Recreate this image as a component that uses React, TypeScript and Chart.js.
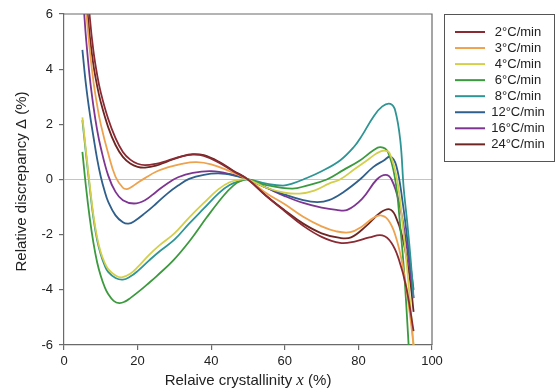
import { useEffect, useRef } from 'react';
import { Chart, registerables } from 'chart.js';

Chart.register(...registerables);

const seriesLabels = ['2°C/min', '3°C/min', '4°C/min', '6°C/min', '8°C/min', '12°C/min', '16°C/min', '24°C/min'];
const seriesColors = ['#8a2a33', '#eea24e', '#d4cf4a', '#3c9a3e', '#2e9494', '#2f5f8c', '#7e3592', '#6e2622'];

const xTicks = [0, 20, 40, 60, 80, 100];
const yTicks = [-6, -4, -2, 0, 2, 4, 6];

const rate2: [number, number][] = [[5, 11.5], [6, 7.8], [7, 5.9], [8, 4.65], [9, 3.8], [10, 3.15], [12, 2.2], [14, 1.5], [16, 1.0], [18, 0.72], [20, 0.57], [22, 0.52], [25, 0.57], [28, 0.68], [32, 0.84], [35, 0.9], [38, 0.86], [42, 0.62], [46, 0.3], [50, 0], [55, -0.6], [60, -1.15], [65, -1.68], [70, -2.08], [75, -2.3], [79, -2.25], [83, -2.1], [86.5, -2.03], [89, -2.3], [91, -2.9], [93, -3.9], [95, -5.5]];
const rate3: [number, number][] = [[5, 8.5], [6, 6.2], [7, 4.7], [8, 3.55], [9, 2.7], [10, 2.0], [12, 0.95], [14, 0.1], [16, -0.3], [17, -0.35], [18, -0.3], [20, -0.12], [22, 0.05], [25, 0.28], [28, 0.43], [32, 0.57], [36, 0.63], [40, 0.55], [45, 0.3], [50, 0], [55, -0.5], [60, -0.9], [65, -1.35], [70, -1.7], [74, -1.88], [77.8, -1.91], [81, -1.7], [84, -1.4], [86, -1.3], [88, -1.45], [90, -2.0], [92, -3.1], [94, -4.9], [95.3, -6.4]];
const rate4: [number, number][] = [[5, 2.25], [6, 1.0], [7, -0.2], [8, -1.3], [9, -2.1], [10, -2.65], [11, -3.0], [12, -3.25], [14, -3.48], [15.7, -3.55], [18, -3.42], [20, -3.18], [23, -2.75], [26, -2.38], [30, -1.95], [34, -1.38], [38, -0.85], [42, -0.35], [45, -0.1], [48, 0], [50, 0], [55, -0.3], [60, -0.48], [64, -0.51], [68, -0.4], [72, -0.15], [75, 0], [79, 0.38], [82.3, 0.69], [85, 0.95], [87, 1.05], [88.5, 0.95], [90.5, 0], [92, -1.6], [93.5, -3.6], [95, -6]];
const rate6: [number, number][] = [[5, 1.0], [6, -0.3], [7, -1.4], [8, -2.3], [9, -3.0], [10, -3.5], [11, -3.88], [12, -4.15], [13.5, -4.4], [15, -4.48], [16.5, -4.43], [18, -4.3], [20.7, -4.02], [23, -3.76], [25.2, -3.5], [29.7, -2.93], [34.3, -2.2], [38.8, -1.37], [43.4, -0.58], [46, -0.22], [48, -0.05], [50, 0], [55, -0.2], [62, -0.33], [66, -0.22], [71.4, 0], [76, 0.35], [80.4, 0.69], [84, 1.05], [86, 1.17], [88, 1.0], [90, 0.0], [91.3, -1.6], [92.5, -3.5], [94, -6.8]];
const rate8: [number, number][] = [[5, 2.15], [6, 0.9], [7, -0.3], [8, -1.4], [9, -2.2], [10, -2.72], [11, -3.1], [12, -3.35], [14, -3.57], [16, -3.63], [18, -3.52], [20, -3.32], [23, -2.95], [26, -2.6], [30, -2.18], [34, -1.6], [38, -1.05], [42, -0.5], [45, -0.2], [48, -0.05], [50, 0], [55, -0.15], [59.5, -0.22], [62, -0.15], [65, 0], [70, 0.3], [75, 0.69], [78.7, 1.17], [81, 1.6], [84, 2.26], [86.5, 2.65], [88.7, 2.74], [90, 2.5], [91.4, 1.4], [92.3, -0.3], [93.3, -1.6], [94.2, -2.9], [95, -4.3]];
const rate12: [number, number][] = [[5, 4.7], [6, 3.4], [7, 2.4], [8, 1.55], [9, 0.75], [10, 0.1], [11, -0.4], [12, -0.8], [14, -1.3], [16, -1.55], [17.5, -1.6], [19, -1.52], [22, -1.22], [25, -0.88], [28, -0.52], [31, -0.22], [34, 0.02], [38, 0.17], [42, 0.22], [46, 0.15], [50, 0], [55, -0.3], [60, -0.55], [65, -0.75], [68.8, -0.82], [72, -0.75], [76, -0.45], [80.4, 0], [84, 0.45], [86.9, 0.69], [88.7, 0.83], [90.3, 0.5], [92, -0.8], [93.5, -2.4], [95, -4.0]];
const rate16: [number, number][] = [[5, 7.0], [5.5, 6.0], [6, 5.1], [7, 3.7], [8, 2.65], [9, 1.8], [10, 1.15], [12, 0.15], [14, -0.45], [16, -0.75], [19, -0.87], [22, -0.75], [25, -0.45], [28, -0.15], [31, 0.08], [35, 0.24], [40, 0.3], [45, 0.2], [50, 0], [55, -0.3], [60, -0.6], [65, -0.85], [70, -1.02], [74, -1.1], [77, -1.1], [81, -0.7], [85, 0], [87.4, 0.17], [89, 0.0], [91, -0.8], [93, -2.3], [95, -4.3]];
const rate24: [number, number][] = [[5, 10], [6, 6.8], [7, 5.2], [8, 4.15], [9, 3.4], [10, 2.8], [12, 1.9], [14, 1.25], [16, 0.82], [18, 0.58], [20, 0.46], [22, 0.43], [25, 0.5], [28, 0.65], [32, 0.84], [35, 0.92], [38, 0.88], [42, 0.65], [46, 0.32], [50, 0], [55, -0.6], [60, -1.12], [65, -1.6], [70, -1.95], [75, -2.12], [78, -2.1], [82, -1.7], [86, -1.2], [88.5, -1.08], [90, -1.3], [92, -2.1], [94, -3.6], [95, -4.8]];

const seriesData = [rate2, rate3, rate4, rate6, rate8, rate12, rate16, rate24];

const FONT = '"Liberation Sans", Arial, sans-serif';

const decor = {
  id: 'decor',
  beforeDatasetsDraw(chart: any) {
    const { ctx, chartArea: a, scales } = chart;
    const y0 = scales.y.getPixelForValue(0);
    ctx.save();
    ctx.strokeStyle = '#c4c4c4';
    ctx.lineWidth = 1;
    ctx.beginPath();
    ctx.moveTo(a.left, y0);
    ctx.lineTo(a.right, y0);
    ctx.stroke();
    ctx.restore();
  },
  afterDraw(chart: any) {
    const { ctx, chartArea: a } = chart;
    ctx.save();
    ctx.strokeStyle = '#6a6a6a';
    ctx.lineWidth = 1.2;
    ctx.beginPath();
    ctx.moveTo(a.left, a.top);
    ctx.lineTo(a.right, a.top);
    ctx.lineTo(a.right, a.bottom);
    ctx.stroke();

    ctx.fillStyle = '#222';
    ctx.font = `15px ${FONT}`;
    ctx.textAlign = 'center';
    ctx.textBaseline = 'middle';
    ctx.save();
    ctx.translate(22, (a.top + a.bottom) / 2 + 2);
    ctx.rotate(-Math.PI / 2);
    ctx.fillText('Relative discrepancy Δ (%)', 0, 0);
    ctx.restore();

    const p1 = 'Relaive crystallinity ';
    const p2 = 'x';
    const p3 = ' (%)';
    ctx.font = `15px ${FONT}`;
    const w1 = ctx.measureText(p1).width;
    const w3 = ctx.measureText(p3).width;
    ctx.font = `italic 17px "Liberation Serif", serif`;
    const w2 = ctx.measureText(p2).width;
    const total = w1 + w2 + w3;
    let x = (a.left + a.right) / 2 - total / 2;
    const ty = 381;
    ctx.textAlign = 'left';
    ctx.font = `15px ${FONT}`;
    ctx.fillText(p1, x, ty);
    x += w1;
    ctx.font = `italic 17px "Liberation Serif", serif`;
    ctx.fillText(p2, x, ty);
    x += w2;
    ctx.font = `15px ${FONT}`;
    ctx.fillText(p3, x, ty);

    const lx = 444.5, ly = 14.5, lw = 110, lh = 147;
    ctx.strokeStyle = '#555';
    ctx.lineWidth = 1;
    ctx.strokeRect(lx, ly, lw, lh);
    ctx.font = `13px ${FONT}`;
    ctx.textAlign = 'center';
    ctx.textBaseline = 'middle';
    seriesLabels.forEach((lab, i) => {
      const ry = 32 + i * 16.05;
      ctx.strokeStyle = seriesColors[i];
      ctx.lineWidth = 2;
      ctx.beginPath();
      ctx.moveTo(455, ry);
      ctx.lineTo(485, ry);
      ctx.stroke();
      ctx.fillStyle = '#222';
      ctx.fillText(lab, 518, ry);
    });
    ctx.restore();
  },
};

export default function App() {
  const ref = useRef<HTMLCanvasElement | null>(null);
  useEffect(() => {
    document.body.style.margin = '0';
    const canvas = ref.current;
    if (!canvas) return;
    const chart = new Chart(canvas, {
      type: 'line',
      data: {
        datasets: seriesData.map((d, i) => ({
          label: seriesLabels[i],
          data: d.map(([x, y]) => ({ x, y })),
          borderColor: seriesColors[i],
          backgroundColor: seriesColors[i],
          borderWidth: 1.8,
          pointRadius: 0,
          tension: 0.4,
          clip: 0,
        })),
      },
      options: {
        responsive: false,
        animation: false,
        layout: { padding: { left: 0, top: 14, right: 124, bottom: 0 } },
        plugins: { legend: { display: false }, tooltip: { enabled: false } },
        scales: {
          x: {
            type: 'linear',
            min: 0,
            max: 100,
            afterBuildTicks: (s: any) => { s.ticks = xTicks.map((v) => ({ value: v })); },
            afterFit: (s: any) => { s.height = 47; },
            ticks: { font: { family: FONT, size: 13 }, color: '#222', padding: 4, maxRotation: 0 },
            grid: { display: true, drawOnChartArea: false, drawTicks: true, tickLength: 5, color: '#6a6a6a', lineWidth: 1.2 },
            border: { display: true, color: '#6a6a6a', width: 1.2 },
          },
          y: {
            type: 'linear',
            min: -6,
            max: 6,
            afterBuildTicks: (s: any) => { s.ticks = yTicks.map((v) => ({ value: v })); },
            afterFit: (s: any) => { s.width = 64; },
            ticks: { font: { family: FONT, size: 13 }, color: '#222', padding: 6 },
            grid: { display: true, drawOnChartArea: false, drawTicks: true, tickLength: 5, color: '#6a6a6a', lineWidth: 1.2 },
            border: { display: true, color: '#6a6a6a', width: 1.2 },
          },
        },
      },
      plugins: [decor],
    });
    return () => chart.destroy();
  }, []);
  return (
    <div style={{ width: 556, height: 392, background: '#fff' }}>
      <canvas ref={ref} width={556} height={392} />
    </div>
  );
}
